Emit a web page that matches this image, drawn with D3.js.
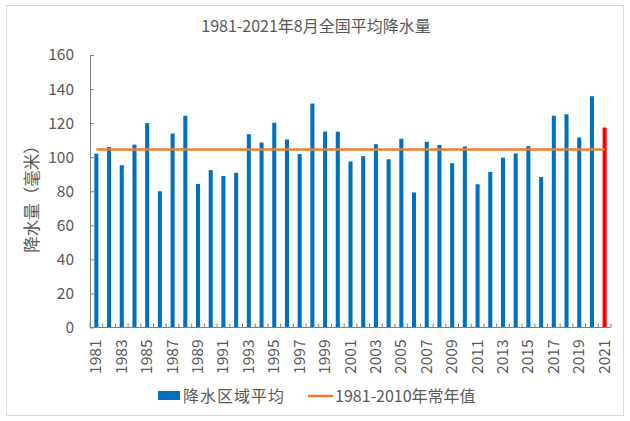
<!DOCTYPE html>
<html>
<head>
<meta charset="utf-8">
<script src="https://cdn.jsdelivr.net/npm/d3@7"></script>
<style>
  html, body { margin: 0; padding: 0; background: #fff; }
  svg { display: block; }
  text { font-family: "Noto Sans CJK SC", "Noto Sans", sans-serif; fill: #595959; }
</style>
</head>
<body>
<svg id="chart" width="630" height="421"></svg>
<script>
// ---- data ----
const years = d3.range(1981, 2022).map(String);
const precip = [102, 106, 95.3, 107.4, 120, 80, 113.9, 124.3, 84.3, 92.4,
                89, 90.8, 113.5, 108.6, 120.2, 110.4, 101.8, 131.5, 115, 115,
                97.5, 100.6, 107.6, 98.8, 110.8, 79.3, 109, 107.2, 96.5, 106.3,
                84.1, 91.4, 99.8, 102.2, 106.5, 88.3, 124.3, 125.2, 111.5, 135.8,
                117.4];
const normalValue = 104.5;
const yTicks = [0, 20, 40, 60, 80, 100, 120, 140, 160];
const xTickLabels = years.filter((d, i) => i % 2 === 0);
const titleText = "1981-2021年8月全国平均降水量";
const yAxisTitle = "降水量（毫米）";
const legendLabels = ["降水区域平均", "1981-2010年常年值"];

// ---- layout ----
const svg = d3.select("#chart");
const plotL = 90, plotR = 611, plotT = 55, plotB = 327.5;

svg.append("rect")
  .attr("x", 6.5).attr("y", 5.5).attr("width", 617).attr("height", 410)
  .attr("fill", "#fff").attr("stroke", "#d9d9d9").attr("stroke-width", 1);

const x = d3.scaleBand().domain(years).range([plotL, plotR])
  .paddingInner(0.68).paddingOuter(0.34);
const y = d3.scaleLinear().domain([0, 160]).range([plotB, plotT]);

// title
svg.append("text").attr("x", 316).attr("y", 32)
  .attr("text-anchor", "middle").attr("font-size", 16).text(titleText);

// y axis
const yAxis = svg.append("g").attr("transform", `translate(${plotL},0)`)
  .call(d3.axisLeft(y).tickValues(yTicks).tickSizeInner(-4).tickSizeOuter(0).tickPadding(16));
yAxis.select(".domain").attr("stroke", "#7f7f7f");
yAxis.selectAll(".tick line").attr("stroke", "#7f7f7f");
yAxis.selectAll(".tick text").attr("font-size", 15.5).attr("fill", "#595959")
  .style("font-family", '"Noto Sans CJK SC", sans-serif');

// y axis title
svg.append("text").attr("transform", "translate(38,195) rotate(-90)")
  .attr("text-anchor", "middle").attr("font-size", 16.5).text(yAxisTitle);

// bars
svg.append("g").selectAll("rect").data(precip).join("rect")
  .attr("x", (d, i) => x(years[i]))
  .attr("y", d => y(d))
  .attr("width", x.bandwidth())
  .attr("height", d => y(0) - y(d))
  .attr("fill", (d, i) => years[i] === "2021" ? "#ff0000" : "#0070c0");

// normal line
svg.append("line")
  .attr("x1", x(years[0]) + x.bandwidth() / 2)
  .attr("x2", x(years[years.length - 1]) + x.bandwidth() / 2)
  .attr("y1", y(normalValue)).attr("y2", y(normalValue))
  .attr("stroke", "#ed7d31").attr("stroke-width", 2.5);

// x axis
const xAxisG = svg.append("g").attr("transform", `translate(0,${plotB})`);
xAxisG.append("line").attr("x1", plotL).attr("x2", plotR)
  .attr("stroke", "#7f7f7f");
const step = x.step();
xAxisG.selectAll("line.tk").data(d3.range(years.length + 1)).join("line")
  .attr("class", "tk")
  .attr("x1", i => plotL + i * step).attr("x2", i => plotL + i * step)
  .attr("y1", 0).attr("y2", -4).attr("stroke", "#7f7f7f");
xAxisG.selectAll("text").data(xTickLabels).join("text")
  .attr("transform", d => `translate(${x(d) + x.bandwidth() / 2 + 5},${12}) rotate(-90)`)
  .attr("text-anchor", "end").attr("font-size", 15.5).text(d => d);

// legend
const lg = svg.append("g");
lg.append("rect").attr("x", 158).attr("y", 391).attr("width", 22).attr("height", 9)
  .attr("fill", "#0070c0");
lg.append("text").attr("x", 183).attr("y", 401.5).attr("font-size", 16).attr("letter-spacing", 1).text(legendLabels[0]);
lg.append("line").attr("x1", 308).attr("x2", 333).attr("y1", 396).attr("y2", 396)
  .attr("stroke", "#ed7d31").attr("stroke-width", 2.5);
lg.append("text").attr("x", 335).attr("y", 401.5).attr("font-size", 16).text(legendLabels[1]);
</script>
</body>
</html>
